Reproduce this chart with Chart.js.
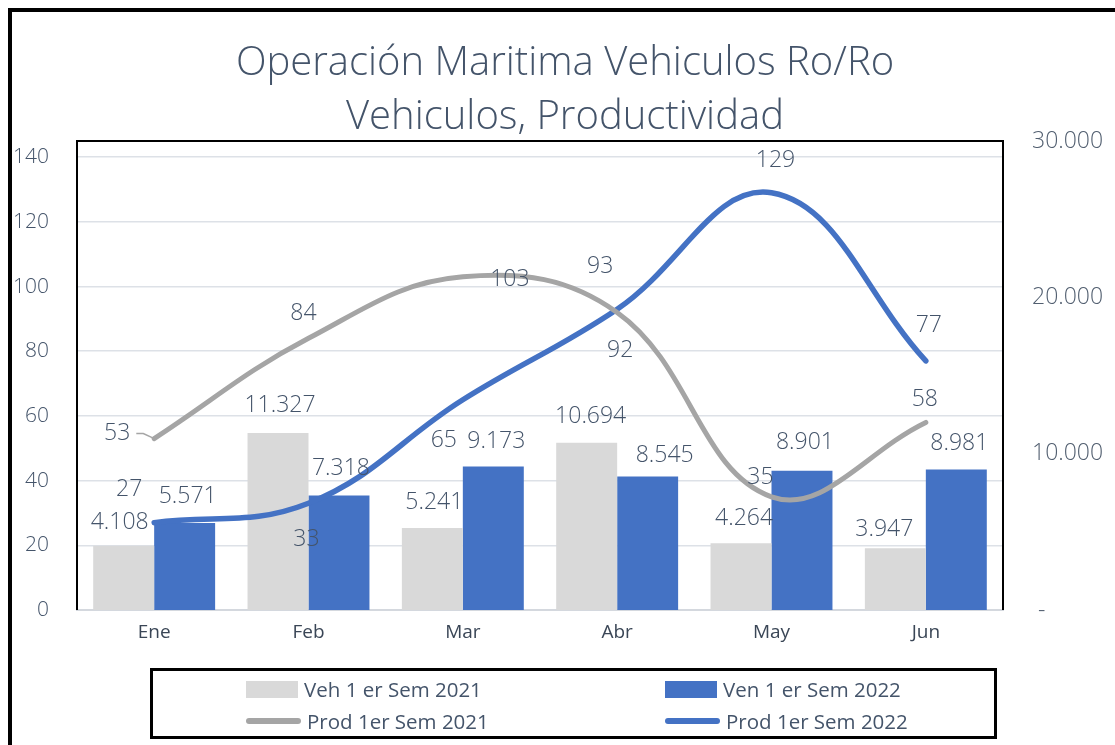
<!DOCTYPE html>
<html>
<head>
<meta charset="utf-8">
<script src="https://cdn.jsdelivr.net/npm/chart.js@4.4.1/dist/chart.umd.min.js"></script>
<style>
  html, body { margin: 0; padding: 0; background: #fff; }
  #wrap { position: relative; width: 1115px; height: 745px; overflow: hidden; }
  #frame { position: absolute; left: 8px; top: 8px; width: 1200px; height: 1000px; border: 4px solid #000; }
  #chart { position: absolute; left: 0; top: 0; }
  #legend {
    position: absolute; left: 150px; top: 668px; width: 841px; height: 65px;
    border: 3px solid #000; font-family: "Open Sans", sans-serif; font-size: 20.5px; color: #44546a;
  }
  .item { position: absolute; display: flex; align-items: center; height: 26px; white-space: nowrap; }
  .sw { margin-right: 6px; }
</style>
</head>
<body>
<div id="wrap">
  <div id="frame"></div>
  <canvas id="chart" width="1115" height="745"></canvas>
  <div id="legend"></div>
</div>
<script>
// datos
const months = ['Ene', 'Feb', 'Mar', 'Abr', 'May', 'Jun'];
const veh2021 = [4108, 11327, 5241, 10694, 4264, 3947];
const veh2022 = [5571, 7318, 9173, 8545, 8901, 8981];
const prod2021 = [53, 84, 103, 92, 35, 58];
const prod2022 = [27, 33, 65, 93, 129, 77];
const leftTicks = [0, 20, 40, 60, 80, 100, 120, 140];
const rightTicks = [0, 10000, 20000, 30000];
const seriesNames = ['Veh 1 er Sem 2021', 'Ven 1 er Sem 2022', 'Prod 1er Sem 2021', 'Prod 1er Sem 2022'];
const titleLines = ['Operación Maritima Vehiculos Ro/Ro', 'Vehiculos, Productividad'];

// posición de cada etiqueta respecto a su punto (dx, dy)
const offVeh2021 = [[-4, -23], [2, -27], [2, -26], [4, -26], [3, -25], [-11, -19]];
const offVeh2022 = [[3, -26], [2, -27], [3, -25], [17, -21], [3, -28], [3, -26]];
const offProd2021 = [[-37, -5], [-5, -25], [47, 3], [3, 38], [-11, -19], [-1, -23]];
const offProd2022 = [[-25, -33], [-2, 36], [-19, 41], [-17, -43], [4, -32], [3, -35]];

const GRAY_BAR = '#d9d9d9';
const BLUE = '#4472c4';
const GRAY_LINE = '#a5a5a5';
const TEXT = '#44546a';
const FONT = '"Open Sans", sans-serif';

const fmtMiles = v => String(v).replace(/\B(?=(\d{3})+(?!\d))/g, '.');

/** Etiquetas de datos */
const valueLabels = {
  id: 'valueLabels',
  afterDatasetsDraw(chart) {
    const ctx = chart.ctx;
    ctx.save();
    ctx.font = '300 23px ' + FONT;
    ctx.fillStyle = TEXT;
    ctx.textAlign = 'center';
    ctx.textBaseline = 'middle';
    chart.data.datasets.forEach((ds, i) => {
      const meta = chart.getDatasetMeta(i);
      meta.data.forEach((el, j) => {
        const [dx, dy] = ds.labelOffsets[j];
        const text = ds.type === 'bar' ? fmtMiles(ds.data[j]) : String(ds.data[j]);
        ctx.fillText(text, el.x + dx, el.y + dy);
        if (ds.leader && ds.leader[j]) {
          const w = ctx.measureText(text).width;
          const lx = el.x + dx + w / 2 + 6;
          ctx.strokeStyle = GRAY_LINE;
          ctx.lineWidth = 1.5;
          ctx.beginPath();
          ctx.moveTo(lx, el.y + dy);
          ctx.lineTo(lx + 7, el.y + dy);
          ctx.lineTo(el.x - 2, el.y - 1);
          ctx.stroke();
        }
      });
    });
    ctx.restore();
  }
};

/** Marco negro del área de trazado */
const plotFrame = {
  id: 'plotFrame',
  afterDraw(chart) {
    const { ctx, chartArea: a } = chart;
    ctx.save();
    ctx.strokeStyle = '#000';
    ctx.lineWidth = 2;
    ctx.beginPath();
    ctx.moveTo(a.left, a.bottom);
    ctx.lineTo(a.left, a.top);
    ctx.lineTo(a.right, a.top);
    ctx.lineTo(a.right, a.bottom);
    ctx.stroke();
    ctx.restore();
  }
};

const datasets = [
  {
    type: 'line', label: seriesNames[2], data: prod2021, yAxisID: 'y',
    borderColor: GRAY_LINE, borderWidth: 5, tension: 0.4, pointRadius: 0,
    borderCapStyle: 'round', order: 0, labelOffsets: offProd2021,
    leader: [true, false, false, false, false, false]
  },
  {
    type: 'line', label: seriesNames[3], data: prod2022, yAxisID: 'y',
    borderColor: BLUE, borderWidth: 5.5, tension: 0.4, pointRadius: 0,
    borderCapStyle: 'round', order: 0, labelOffsets: offProd2022
  },
  {
    type: 'bar', label: seriesNames[0], data: veh2021, yAxisID: 'y1',
    backgroundColor: GRAY_BAR, order: 1, labelOffsets: offVeh2021,
    barPercentage: 1, categoryPercentage: 0.79
  },
  {
    type: 'bar', label: seriesNames[1], data: veh2022, yAxisID: 'y1',
    backgroundColor: BLUE, order: 1, labelOffsets: offVeh2022,
    barPercentage: 1, categoryPercentage: 0.79
  }
];

new Chart(document.getElementById('chart'), {
  data: { labels: months, datasets },
  options: {
    responsive: false,
    animation: false,
    layout: { padding: { left: 15, right: 0, top: 0, bottom: 0 } },
    scales: {
      x: {
        grid: { display: false, drawTicks: false },
        border: { color: '#d4d8de', width: 2 },
        ticks: { color: '#3a4656', font: { family: FONT, size: 19 }, padding: 11 },
        afterFit: s => { s.height = 135; }
      },
      y: {
        position: 'left', min: 0, max: 145,
        grid: { color: '#dde1e7', lineWidth: 1.5, drawTicks: false },
        border: { display: false },
        ticks: { color: TEXT, padding: 28, font: { family: FONT, size: 21, weight: 300 } },
        afterBuildTicks: s => { s.ticks = leftTicks.map(v => ({ value: v })); },
        afterFit: s => { s.width = 62; }
      },
      y1: {
        position: 'right', min: 0, max: 30000,
        grid: { display: false, drawTicks: false },
        border: { display: false },
        ticks: {
          color: '#525f70', padding: 29,
          font: { family: FONT, size: 23, weight: 300 },
          callback: v => v === 0 ? ' -' : fmtMiles(v)
        },
        afterBuildTicks: s => { s.ticks = rightTicks.map(v => ({ value: v })); },
        afterFit: s => { s.width = 112; }
      }
    },
    plugins: {
      legend: { display: false },
      tooltip: { enabled: false },
      title: {
        display: true, text: titleLines, color: TEXT,
        font: { family: FONT, size: 40, weight: 300, lineHeight: 1.35 },
        padding: { top: 37, bottom: -4 }
      }
    }
  },
  plugins: [valueLabels, plotFrame]
});

// leyenda en recuadro, dos columnas
const legend = document.getElementById('legend');
const legendOrder = [2, 3, 0, 1];
legendOrder.forEach((di, k) => {
  const ds = datasets[di];
  const item = document.createElement('div');
  item.className = 'item';
  item.style.left = (k % 2 === 0 ? 93 : 512) + 'px';
  item.style.top = (k < 2 ? 5 : 37) + 'px';
  const sw = document.createElement('span');
  sw.className = 'sw';
  if (ds.type === 'bar') {
    sw.style.cssText = `display:inline-block;width:52px;height:17px;background:${ds.backgroundColor}`;
  } else {
    sw.style.cssText = `display:inline-block;width:55px;height:6px;border-radius:3px;background:${ds.borderColor}`;
  }
  item.appendChild(sw);
  item.appendChild(document.createTextNode(ds.label));
  legend.appendChild(item);
});
</script>
</body>
</html>
